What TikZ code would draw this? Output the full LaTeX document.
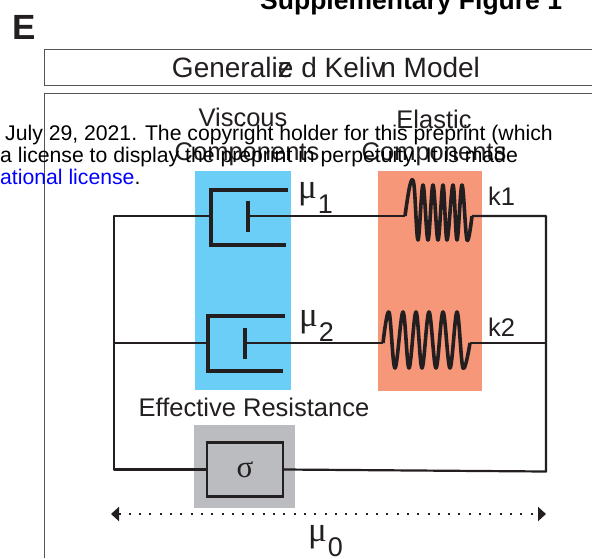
\documentclass[tikz,border=0pt]{standalone}
\usepackage{fontspec}
\setmainfont{Liberation Sans}
\newfontfamily\symfont{Liberation Serif}
\usepackage{xcolor}
\usetikzlibrary{arrows.meta}
\definecolor{inkgray}{HTML}{231F20}
\definecolor{viscblue}{HTML}{6BCEF7}
\definecolor{elastorange}{HTML}{F7977A}
\definecolor{resgray}{HTML}{BBBCBF}
\definecolor{framegray}{HTML}{555555}
\newcommand{\labelsize}{\fontsize{25.5}{27}\selectfont}
\newcommand{\notesize}{\fontsize{21.2}{24}\selectfont}
\newcommand{\mulabel}[1]{{\symfont\fontsize{35}{35}\selectfont μ}\kern1pt\raisebox{-15pt}{\fontsize{27}{27}\selectfont #1}}
\begin{document}
\begin{tikzpicture}[x=1pt,y=-1pt,
  wire/.style={draw=inkgray,line width=2.2pt,line join=round},
  cup/.style={draw=inkgray,line width=3.4pt,line join=miter},
  coil/.style={draw=inkgray,line width=3.6pt,line join=round},
  frameline/.style={draw=framegray,line width=0.9pt},
  lab/.style={inner sep=0pt,text=inkgray,font=\labelsize},
  over/.style={inner sep=0pt,anchor=base west,text=black,font=\notesize}]
\useasboundingbox (0,0) rectangle (592,558);
\fill[white] (0,0) rectangle (592,558);
\draw[frameline] (592,49) -- (44,49) -- (44,85) -- (592,85);
\draw[frameline] (592,93) -- (44,93) -- (44,558);
\fill[viscblue] (195,171) rectangle (291,390);
\fill[elastorange] (378,171) rectangle (482,391);
\fill[resgray] (194,425) rectangle (295,508);
\coordinate (tl) at (114,216);
\coordinate (ml) at (114,343);
\coordinate (bl) at (114,469.5);
\coordinate (tr) at (546,216);
\coordinate (mr) at (546,343);
\coordinate (br) at (546,471.5);
\coordinate (cup1) at (211,216);
\coordinate (cup2) at (208,343);
\coordinate (piston1) at (248,216);
\coordinate (piston2) at (245,343);
\coordinate (coil1a) at (405,216);
\coordinate (coil1b) at (472,216);
\coordinate (coil2a) at (383,343);
\coordinate (coil2b) at (470,343);
\node[draw=inkgray,line width=2.4pt,fill=resgray,minimum width=76pt,minimum height=54pt,inner sep=0pt,text=inkgray,font=\symfont\fontsize{31}{31}\selectfont] (sigmabox) at (245,469.5) {σ};
\draw[wire] (cup1) -- (tl) -- (bl) -- (sigmabox.west);
\draw[wire] (sigmabox.east) -- (br) -- (tr) -- (coil1b);
\draw[wire] (piston1) -- (coil1a);
\draw[wire] (ml) -- (cup2);
\draw[wire] (piston2) -- (coil2a);
\draw[wire] (coil2b) -- (mr);
\draw[cup] (288,190) -| (cup1) |- (286,245);
\draw[cup] (piston1) ++(0,-15.5) -- ++(0,31);
\draw[cup] (285,316) -| (cup2) |- (283,371);
\draw[cup] (piston2) ++(0,-15.5) -- ++(0,31);
\draw[coil] plot[smooth,tension=0.6] coordinates {(coil1a) (410,185) (414,185) (418,240) (423,185) (428,240) (433,185) (438,240) (443,185) (447,240) (453,185) (457,240) (462,185) (467,240) (coil1b)};
\draw[coil] plot[smooth,tension=0.6] coordinates {(coil2a) (389,312) (395,368) (403,312) (409,368) (416,312) (422,368) (429,312) (436,368) (443,312) (450,368) (457,312) (463,368) (coil2b)};
\draw[inkgray,line width=2pt,dash pattern=on 2pt off 8.3pt,{Triangle[length=8pt,width=14pt]}-{Triangle[length=8pt,width=14pt]}] (111,514) -- (546,514);
\node[lab,anchor=base] (viscoushead) at (243,126) {Viscous};
\node[lab,anchor=base] (viscoussub) at (247,160) {Components};
\node[lab,anchor=base] (elastichead) at (434,128) {Elastic};
\node[lab,anchor=base] (elasticsub) at (434,160) {Components};
\node[lab,anchor=base west] (mu1) at (298,198) {\mulabel{1}};
\node[lab,anchor=base west] (mu2) at (299,326) {\mulabel{2}};
\node[lab,anchor=base west] (mu0) at (308,541) {\mulabel{0}};
\node[lab,anchor=base west] (k1) at (488,205) {k1};
\node[lab,anchor=base west] (k2) at (488,336) {k2};
\node[lab,anchor=base] (resistance) at (254,416) {Effective Resistance};
\node[lab,anchor=base,font=\fontsize{28}{28}\selectfont] (modeltitle) at (326,77) {Generali\rlap{z}e\kern8pt d Keli\rlap{v}\kern9pt n Model};
\node[anchor=base west,inner sep=0pt,text=inkgray,font=\fontsize{35}{35}\bfseries] (panel) at (12,39) {E};
\node[anchor=base west,inner sep=0pt,text=black,font=\fontsize{26.5}{26.5}\bfseries] (suptitle) at (260,9) {Supplementary Figure 1};
\node[over] (note1) at (5,140) {July 29, 2021. The copyright holder for this preprint (which};
\node[over] (note2) at (0,162) {a license to display the preprint in perpetuity. It is made};
\node[over] (note3) at (0,184) {\textcolor{blue}{ational license}.};
\end{tikzpicture}
\end{document}
